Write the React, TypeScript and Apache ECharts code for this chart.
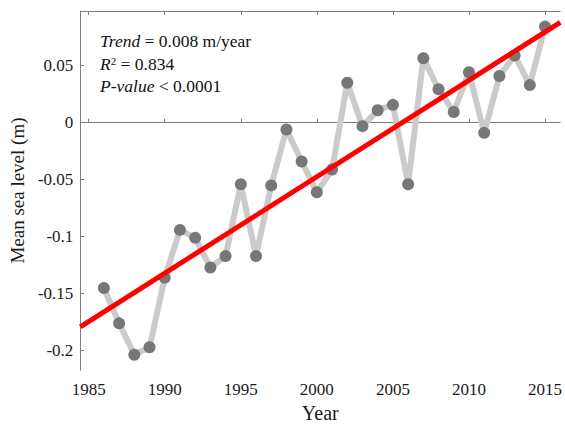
import React, { useEffect, useRef } from "react";
import * as echarts from "echarts";

// Annual mean sea level anomaly (m)
const years = [1986, 1987, 1988, 1989, 1990, 1991, 1992, 1993, 1994, 1995, 1996, 1997, 1998, 1999, 2000, 2001, 2002, 2003, 2004, 2005, 2006, 2007, 2008, 2009, 2010, 2011, 2012, 2013, 2014, 2015];
const seaLevel = [-0.145, -0.176, -0.2035, -0.197, -0.136, -0.094, -0.101, -0.127, -0.117, -0.054, -0.117, -0.055, -0.006, -0.034, -0.061, -0.041, 0.035, -0.003, 0.011, 0.0157, -0.054, 0.0566, 0.0294, 0.0094, 0.0443, -0.0089, 0.041, 0.059, 0.033, 0.0843];

// Linear trend, drawn across the full x range
const trendX = [1984.45, 2016];
const trendY = [-0.179, 0.088];

const xTicks = [1985, 1990, 1995, 2000, 2005, 2010, 2015];
const yTicks = [-0.2, -0.15, -0.1, -0.05, 0, 0.05];

const FONT = "'Liberation Serif', 'Times New Roman', serif";
const STAT_SIZE = 17.5;

export default function App() {
  const ref = useRef<HTMLDivElement>(null);

  useEffect(() => {
    if (!ref.current) return;
    const chart = echarts.init(ref.current, undefined, { renderer: "svg" });
    const axisColor = "#7f7f7f";
    const italic = { fontStyle: "italic", fontFamily: FONT, fontSize: STAT_SIZE, fill: "#111" };
    chart.setOption({
      animation: false,
      backgroundColor: "#ffffff",
      grid: { left: 79, right: 0, top: 11, bottom: 50, containLabel: false },
      xAxis: [
        {
          type: "value",
          min: 1984.45,
          max: 2016,
          name: "Year",
          nameLocation: "middle",
          nameGap: 28,
          nameTextStyle: { fontFamily: FONT, fontSize: 20, color: "#1a1a1a" },
          axisLine: { show: true, lineStyle: { color: axisColor, width: 1 } },
          axisTick: { show: true, inside: true, length: 4, customValues: xTicks, lineStyle: { color: axisColor } },
          axisLabel: { customValues: xTicks, fontFamily: FONT, fontSize: 17, color: "#1a1a1a", margin: 11, formatter: (v: number) => String(v) },
          splitLine: { show: false },
        },
        {
          type: "value",
          position: "top",
          min: 1984.45,
          max: 2016,
          axisLine: { show: true, onZero: false, lineStyle: { color: axisColor, width: 1 } },
          axisTick: { show: true, inside: true, length: 4, customValues: xTicks, lineStyle: { color: axisColor } },
          axisLabel: { show: false },
          splitLine: { show: false },
        },
      ],
      yAxis: {
        type: "value",
        min: -0.217,
        max: 0.098,
        name: "Mean sea level (m)",
        nameLocation: "middle",
        nameGap: 46,
        nameTextStyle: { fontFamily: FONT, fontSize: 19, color: "#1a1a1a" },
        axisLine: { show: true, onZero: false, lineStyle: { color: axisColor, width: 1 } },
        axisTick: { show: true, inside: true, length: 4, customValues: yTicks, lineStyle: { color: axisColor } },
        axisLabel: {
          customValues: yTicks,
          fontFamily: FONT,
          fontSize: 17,
          color: "#1a1a1a",
          margin: 7,
          formatter: (v: number) => (Math.abs(v) < 1e-9 ? "0" : String(parseFloat(v.toFixed(3)))),
        },
        splitLine: { show: false },
      },
      series: [
        {
          type: "line",
          xAxisIndex: 0,
          data: years.map((y, i) => [y, seaLevel[i]]),
          symbol: "circle",
          symbolSize: 12,
          itemStyle: { color: "#777777" },
          lineStyle: { color: "#cbcbcb", width: 6 },
          z: 2,
        },
        {
          type: "line",
          xAxisIndex: 0,
          data: trendX.map((x, i) => [x, trendY[i]]),
          symbol: "none",
          lineStyle: { color: "#ff0000", width: 5 },
          z: 3,
        },
      ],
      graphic: [
        {
          type: "text",
          left: 100,
          top: 32,
          style: {
            text: "{i|Trend} = 0.008 m/year",
            fontFamily: FONT,
            fontSize: STAT_SIZE,
            fill: "#111",
            rich: { i: italic },
          },
        },
        {
          type: "text",
          left: 100,
          top: 55,
          style: {
            text: "{i|R}{s|2} = 0.834",
            fontFamily: FONT,
            fontSize: STAT_SIZE,
            fill: "#111",
            rich: {
              i: italic,
              s: { fontFamily: FONT, fontSize: 11, fill: "#111", verticalAlign: "top", padding: [0, 0, 7, 0] },
            },
          },
        },
        {
          type: "text",
          left: 100,
          top: 77,
          style: {
            text: "{i|P-value} < 0.0001",
            fontFamily: FONT,
            fontSize: STAT_SIZE,
            fill: "#111",
            rich: { i: italic },
          },
        },
      ],
    });
    return () => chart.dispose();
  }, []);

  return (
    <div
      ref={ref}
      style={{ position: "fixed", left: 0, top: 0, width: 565, height: 428, background: "#fff" }}
    />
  );
}
